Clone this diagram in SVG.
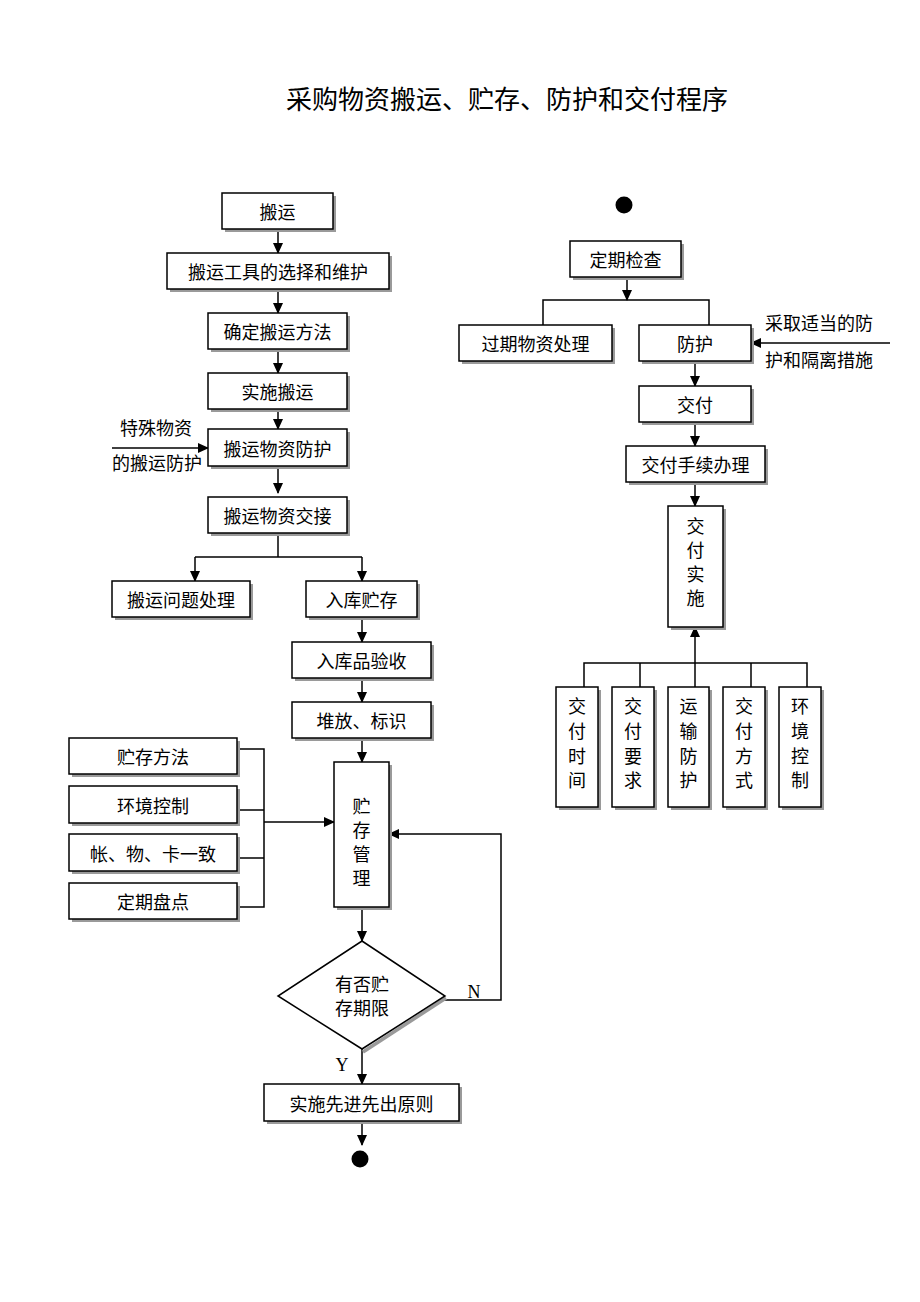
<svg xmlns="http://www.w3.org/2000/svg" width="920" height="1302" viewBox="0 0 920 1302">
<style>
.bx{fill:#fff;stroke:#000;stroke-width:1.5}
.sh{fill:#9a9a9a}
.t{font-family:"Noto Sans CJK SC","Noto Sans",sans-serif;font-size:18px;fill:#000;text-anchor:middle;dominant-baseline:central}
.tl{font-family:"Noto Sans CJK SC","Noto Sans",sans-serif;font-size:18px;fill:#000;dominant-baseline:central}
.ln{fill:none;stroke:#000;stroke-width:1.5}
.lt{font-family:"Liberation Serif",serif;font-size:18px;fill:#000;text-anchor:middle;dominant-baseline:central}
</style>
<defs>
<marker id="ah" markerWidth="11" markerHeight="10" refX="10" refY="5" orient="auto" markerUnits="userSpaceOnUse">
<path d="M0,0 L11,5 L0,10 Z" fill="#000"/>
</marker>
</defs>
<rect width="920" height="1302" fill="#fff"/>
<text x="507" y="97" font-family="'Noto Sans CJK SC',sans-serif" font-size="26" text-anchor="middle" dominant-baseline="central">采购物资搬运、贮存、防护和交付程序</text>

<g id="connectors">
<line class="ln" x1="278" y1="229" x2="278" y2="253" marker-end="url(#ah)"/>
<line class="ln" x1="278" y1="289" x2="278" y2="313" marker-end="url(#ah)"/>
<line class="ln" x1="278" y1="349" x2="278" y2="373" marker-end="url(#ah)"/>
<line class="ln" x1="278" y1="409" x2="278" y2="429" marker-end="url(#ah)"/>
<line class="ln" x1="278" y1="468" x2="278" y2="493" marker-end="url(#ah)"/>
<line class="ln" x1="112" y1="448" x2="208" y2="448" marker-end="url(#ah)"/>
<polyline class="ln" points="278,533 278,557"/>
<line class="ln" x1="195" y1="557" x2="362" y2="557"/>
<line class="ln" x1="195" y1="557" x2="195" y2="581" marker-end="url(#ah)"/>
<line class="ln" x1="362" y1="557" x2="362" y2="581" marker-end="url(#ah)"/>
<line class="ln" x1="362" y1="617" x2="362" y2="642" marker-end="url(#ah)"/>
<line class="ln" x1="362" y1="678" x2="362" y2="702" marker-end="url(#ah)"/>
<line class="ln" x1="362" y1="738" x2="362" y2="762" marker-end="url(#ah)"/>
<polyline class="ln" points="237,749 264,749 264,907 237,907"/>
<line class="ln" x1="237" y1="810" x2="264" y2="810"/>
<line class="ln" x1="237" y1="858" x2="264" y2="858"/>
<line class="ln" x1="264" y1="822" x2="334" y2="822" marker-end="url(#ah)"/>
<line class="ln" x1="362" y1="907" x2="362" y2="941" marker-end="url(#ah)"/>
<polyline class="ln" points="443,1000 501,1000 501,834 389,834" marker-end="url(#ah)"/>
<line class="ln" x1="362" y1="1049" x2="362" y2="1084" marker-end="url(#ah)"/>
<line class="ln" x1="362" y1="1121" x2="362" y2="1145" marker-end="url(#ah)"/>
<line class="ln" x1="627" y1="277" x2="627" y2="300" marker-end="url(#ah)"/>
<polyline class="ln" points="543,325 543,300 709,300 709,325"/>
<line class="ln" x1="890" y1="343" x2="751" y2="343" marker-end="url(#ah)"/>
<line class="ln" x1="695" y1="361" x2="695" y2="386" marker-end="url(#ah)"/>
<line class="ln" x1="695" y1="422" x2="695" y2="446" marker-end="url(#ah)"/>
<line class="ln" x1="695" y1="482" x2="695" y2="506" marker-end="url(#ah)"/>
<line class="ln" x1="695" y1="663" x2="695" y2="627" marker-end="url(#ah)"/>
<polyline class="ln" points="584,687 584,663 807,663 807,687"/>
<line class="ln" x1="640" y1="663" x2="640" y2="687"/>
<line class="ln" x1="695" y1="663" x2="695" y2="687"/>
<line class="ln" x1="751" y1="663" x2="751" y2="687"/>
</g>

<g id="n-banyun"><rect class="sh" x="225" y="196" width="111" height="36"/><rect class="bx" x="222" y="193" width="111" height="36"/><text class="t" x="277.5" y="211">搬运</text></g>
<g id="n-gongju"><rect class="sh" x="170" y="256" width="222" height="36"/><rect class="bx" x="167" y="253" width="222" height="36"/><text class="t" x="278" y="271">搬运工具的选择和维护</text></g>
<g id="n-queding"><rect class="sh" x="211" y="316" width="139" height="36"/><rect class="bx" x="208" y="313" width="139" height="36"/><text class="t" x="277.5" y="331">确定搬运方法</text></g>
<g id="n-shishi"><rect class="sh" x="211" y="376" width="139" height="36"/><rect class="bx" x="208" y="373" width="139" height="36"/><text class="t" x="277.5" y="391">实施搬运</text></g>
<g id="n-fanghu1"><rect class="sh" x="211" y="432" width="139" height="37"/><rect class="bx" x="208" y="429" width="139" height="37"/><text class="t" x="277.5" y="447.5">搬运物资防护</text></g>
<g id="l-teshu"><text class="tl" x="120" y="427">特殊物资</text><text class="tl" x="112" y="462">的搬运防护</text></g>
<g id="n-jiaojie"><rect class="sh" x="211" y="500" width="139" height="36"/><rect class="bx" x="208" y="497" width="139" height="36"/><text class="t" x="277.5" y="515">搬运物资交接</text></g>
<g id="n-wenti"><rect class="sh" x="115" y="584" width="138" height="36"/><rect class="bx" x="112" y="581" width="138" height="36"/><text class="t" x="181" y="599">搬运问题处理</text></g>
<g id="n-ruku"><rect class="sh" x="309" y="584" width="111" height="36"/><rect class="bx" x="306" y="581" width="111" height="36"/><text class="t" x="361.5" y="599">入库贮存</text></g>
<g id="n-yanshou"><rect class="sh" x="295" y="645" width="139" height="36"/><rect class="bx" x="292" y="642" width="139" height="36"/><text class="t" x="361.5" y="660">入库品验收</text></g>
<g id="n-duifang"><rect class="sh" x="295" y="705" width="139" height="36"/><rect class="bx" x="292" y="702" width="139" height="36"/><text class="t" x="361.5" y="720">堆放、标识</text></g>
<g id="n-zhucunguanli"><rect class="sh" x="337" y="765" width="55" height="145"/><rect class="bx" x="334" y="762" width="55" height="145"/>
<text class="t" x="361.5" y="805">贮</text><text class="t" x="361.5" y="829">存</text><text class="t" x="361.5" y="853">管</text><text class="t" x="361.5" y="877">理</text></g>
<g id="n-fangfa"><rect class="sh" x="72" y="741" width="168" height="36"/><rect class="bx" x="69" y="738" width="168" height="36"/><text class="t" x="153" y="756">贮存方法</text></g>
<g id="n-huanjing1"><rect class="sh" x="72" y="789" width="168" height="37"/><rect class="bx" x="69" y="786" width="168" height="37"/><text class="t" x="153" y="804.5">环境控制</text></g>
<g id="n-zhang"><rect class="sh" x="72" y="837" width="168" height="37"/><rect class="bx" x="69" y="834" width="168" height="37"/><text class="t" x="153" y="852.5">帐、物、卡一致</text></g>
<g id="n-pandian"><rect class="sh" x="72" y="886" width="168" height="36"/><rect class="bx" x="69" y="883" width="168" height="36"/><text class="t" x="153" y="901">定期盘点</text></g>
<g id="n-diamond"><polyline points="446,998 363,1052" fill="none" stroke="#9a9a9a" stroke-width="3.5"/>
<polygon points="362,941 445,996 362,1049 278,996" fill="#fff" stroke="#000" stroke-width="1.5"/>
<text class="t" x="362" y="983">有否贮</text><text class="t" x="362" y="1007">存期限</text></g>
<text class="lt" x="474" y="992">N</text>
<text class="lt" x="342" y="1065">Y</text>
<g id="n-xianjin"><rect class="sh" x="267" y="1087" width="195" height="37"/><rect class="bx" x="264" y="1084" width="195" height="37"/><text class="t" x="361.5" y="1102.5">实施先进先出原则</text></g>
<g id="n-end"><circle cx="360" cy="1159" r="8.5" fill="#000"/></g>

<g id="n-start"><circle cx="624" cy="205" r="8.5" fill="#000"/></g>
<g id="n-jiancha"><rect class="sh" x="573" y="244" width="111" height="36"/><rect class="bx" x="570" y="241" width="111" height="36"/><text class="t" x="625.5" y="259">定期检查</text></g>
<g id="n-guoqi"><rect class="sh" x="462" y="328" width="153" height="36"/><rect class="bx" x="459" y="325" width="153" height="36"/><text class="t" x="535.5" y="343">过期物资处理</text></g>
<g id="n-fanghu2"><rect class="sh" x="642" y="328" width="112" height="36"/><rect class="bx" x="639" y="325" width="112" height="36"/><text class="t" x="695" y="343">防护</text></g>
<g id="l-caiqu"><text class="tl" x="765" y="322">采取适当的防</text><text class="tl" x="765" y="359">护和隔离措施</text></g>
<g id="n-jiaofu"><rect class="sh" x="642" y="389" width="112" height="36"/><rect class="bx" x="639" y="386" width="112" height="36"/><text class="t" x="695" y="404">交付</text></g>
<g id="n-shouxu"><rect class="sh" x="629" y="449" width="139" height="36"/><rect class="bx" x="626" y="446" width="139" height="36"/><text class="t" x="695.5" y="464">交付手续办理</text></g>
<g id="n-jfss"><rect class="sh" x="671" y="509" width="55" height="121"/><rect class="bx" x="668" y="506" width="55" height="121"/>
<text class="t" x="695.5" y="525">交</text><text class="t" x="695.5" y="549">付</text><text class="t" x="695.5" y="573">实</text><text class="t" x="695.5" y="597">施</text></g>
<g id="n-shijian"><rect class="sh" x="559" y="690" width="42" height="120"/><rect class="bx" x="556" y="687" width="42" height="120"/>
<text class="t" x="577" y="705">交</text><text class="t" x="577" y="730">付</text><text class="t" x="577" y="755">时</text><text class="t" x="577" y="779">间</text></g>
<g id="n-yaoqiu"><rect class="sh" x="615" y="690" width="42" height="120"/><rect class="bx" x="612" y="687" width="42" height="120"/>
<text class="t" x="633" y="705">交</text><text class="t" x="633" y="730">付</text><text class="t" x="633" y="755">要</text><text class="t" x="633" y="779">求</text></g>
<g id="n-yunshu"><rect class="sh" x="671" y="690" width="41" height="120"/><rect class="bx" x="668" y="687" width="41" height="120"/>
<text class="t" x="688.5" y="705">运</text><text class="t" x="688.5" y="730">输</text><text class="t" x="688.5" y="755">防</text><text class="t" x="688.5" y="779">护</text></g>
<g id="n-fangshi"><rect class="sh" x="726" y="690" width="42" height="120"/><rect class="bx" x="723" y="687" width="42" height="120"/>
<text class="t" x="744" y="705">交</text><text class="t" x="744" y="730">付</text><text class="t" x="744" y="755">方</text><text class="t" x="744" y="779">式</text></g>
<g id="n-huanjing2"><rect class="sh" x="782" y="690" width="42" height="120"/><rect class="bx" x="779" y="687" width="42" height="120"/>
<text class="t" x="800" y="705">环</text><text class="t" x="800" y="730">境</text><text class="t" x="800" y="755">控</text><text class="t" x="800" y="779">制</text></g>
</svg>
